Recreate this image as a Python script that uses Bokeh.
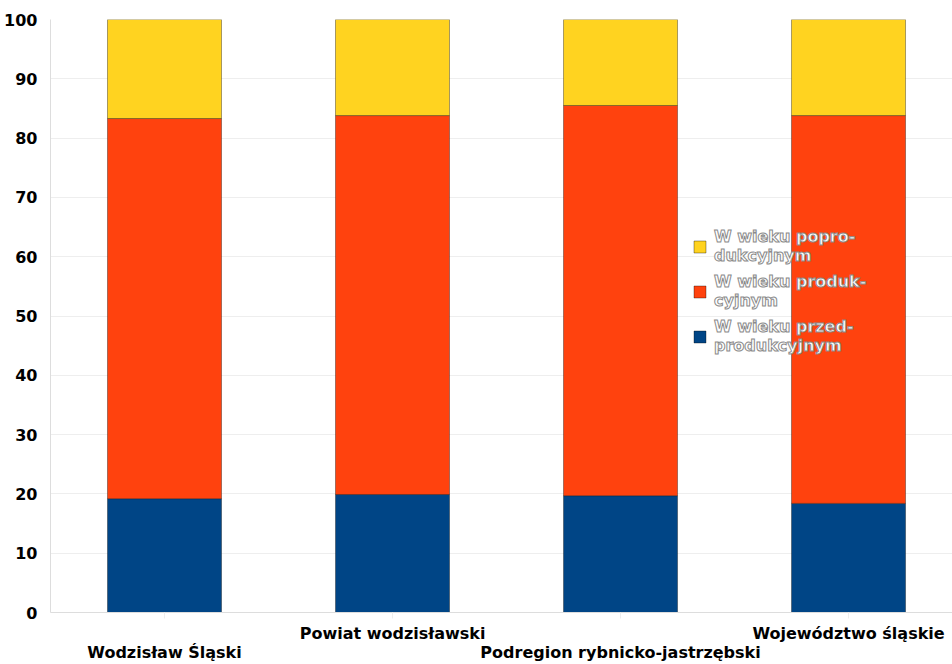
from bokeh.plotting import figure
from bokeh.models import Legend, LegendItem, LinearAxis, FixedTicker, Range1d, ColumnDataSource, Grid
from bokeh.embed import file_html
from bokeh.resources import INLINE

categories = ["Wodzisław Śląski", "Powiat wodzisławski", "Podregion rybnicko-jastrzębski", "Województwo śląskie"]
pre_prod = [19.2, 19.9, 19.7, 18.4]
prod = [64.1, 63.9, 65.8, 65.4]
post_prod = [16.7, 16.2, 14.5, 16.2]
series_names = ["W wieku przed-\nprodukcyjnym", "W wieku produk-\ncyjnym", "W wieku popro-\ndukcyjnym"]
colors = ["#004586", "#FF420E", "#FFD320"]
y_ticks = list(range(0, 101, 10))

src = ColumnDataSource(dict(x=list(range(len(categories))), pre=pre_prod, prod=prod, post=post_prod))

p = figure(width=952, height=664, output_backend="svg", toolbar_location=None,
           x_range=Range1d(-0.5, 3.456), y_range=Range1d(0, 100),
           x_axis_type=None, y_axis_type=None,
           min_border_left=50, min_border_right=0, min_border_top=19, min_border_bottom=0)
p.outline_line_color = None
p.background_fill_color = "white"

rs = p.vbar_stack(["pre", "prod", "post"], x="x", width=0.5, source=src, color=colors,
                  line_color="#000000", line_alpha=0.35, line_width=1)

# y axis
ya = LinearAxis(ticker=FixedTicker(ticks=y_ticks))
ya.axis_line_color = "#dddddd"
ya.major_tick_line_color = None
ya.minor_tick_line_color = None
ya.major_label_text_font = "DejaVu Sans"
ya.major_label_text_font_style = "bold"
ya.major_label_text_font_size = "16px"
ya.major_label_text_color = "black"
ya.major_label_standoff = 7
p.add_layout(ya, "left")

# x axes, staggered
xa1 = LinearAxis(ticker=FixedTicker(ticks=[0, 1, 2, 3]))
xa1.major_label_overrides = {0: " ", 1: categories[1], 2: " ", 3: categories[3]}
xa2 = LinearAxis(ticker=FixedTicker(ticks=[0, 2]))
xa2.major_label_overrides = {0: categories[0], 2: categories[2]}
for a in (xa1, xa2):
    a.major_label_text_font = "DejaVu Sans"
    a.major_label_text_font_style = "bold"
    a.major_label_text_font_size = "16px"
    a.major_label_text_color = "black"
    a.minor_tick_line_color = None
xa1.major_label_text_line_height = 0.9
xa2.major_label_text_line_height = 0.5
xa1.axis_line_color = "#dddddd"
xa1.major_tick_line_color = "#eeeeee"
xa1.major_tick_out = 6
xa1.major_tick_in = 0
xa1.major_label_standoff = 5
xa2.axis_line_color = None
xa2.major_tick_line_color = None
xa2.major_tick_out = 0
xa2.major_tick_in = 0
xa2.major_label_standoff = -3
p.add_layout(xa1, "below")
p.add_layout(xa2, "below")

g = Grid(dimension=1, ticker=FixedTicker(ticks=y_ticks), grid_line_color="#eeeeee")
p.add_layout(g, "center")

items = [LegendItem(label=series_names[i], renderers=[rs[i]]) for i in [2, 1, 0]]
leg = Legend(items=items, location=(642, 257), orientation="vertical")
leg.background_fill_alpha = 0
leg.border_line_color = None
leg.padding = 0
leg.margin = 0
leg.spacing = 7
leg.glyph_width = 15
leg.glyph_height = 15
leg.label_text_font = "DejaVu Sans"
leg.label_text_font_style = "bold"
leg.label_text_font_size = "16px"
leg.label_text_color = "white"
leg.label_text_outline_color = "#8a8a8a"
leg.label_text_line_height = 1.25
leg.label_standoff = 7
p.add_layout(leg, "center")

open("out.html", "w").write(file_html(p, INLINE))
